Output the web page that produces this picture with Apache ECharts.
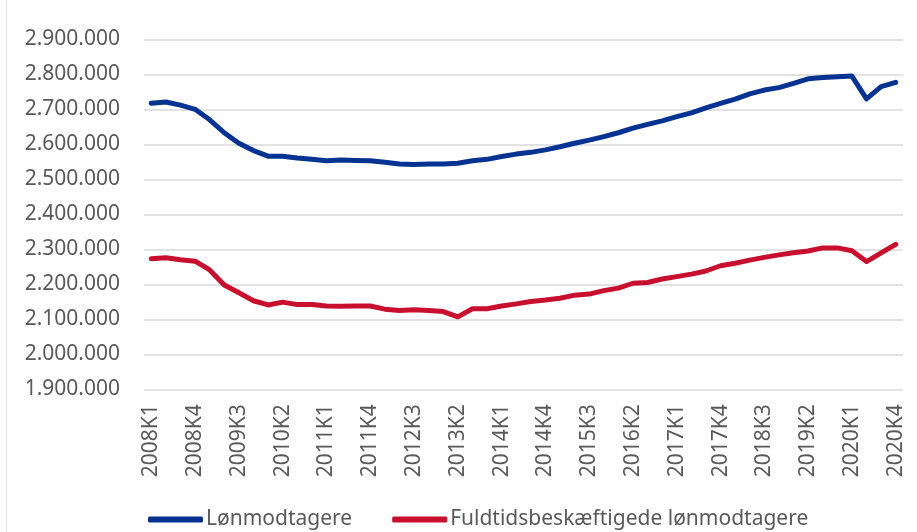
<!DOCTYPE html>
<html>
<head>
<meta charset="utf-8">
<script src="https://cdn.jsdelivr.net/npm/echarts@6/dist/echarts.min.js"></script>
<style>html,body{margin:0;padding:0;background:#fff}#c{width:917px;height:532px}</style>
</head>
<body>
<div id="c"></div>
<script>
const years = [2008,2009,2010,2011,2012,2013,2014,2015,2016,2017,2018,2019,2020];
const categories = [];
years.forEach(y => { for (let q = 1; q <= 4; q++) categories.push(y + 'K' + q); });

const lonmodtagere = [
  2717000, 2721000, 2712000, 2700000, 2670000, 2633000, 2603000, 2582000, 2566000, 2566000,
  2561000, 2557000, 2553000, 2555000, 2554000, 2553000, 2549000, 2544000, 2542000, 2544000,
  2544000, 2546000, 2553000, 2557000, 2565000, 2572000, 2577000, 2584000, 2593000, 2603000,
  2612000, 2622000, 2633000, 2646000, 2657000, 2667000, 2679000, 2690000, 2704000, 2717000,
  2729000, 2744000, 2755000, 2762000, 2774000, 2787000, 2791000, 2793000, 2795000, 2730000,
  2765000, 2777000
];
const fuldtid = [
  2273000, 2276000, 2270000, 2266000, 2241000, 2198000, 2176000, 2153000, 2141000, 2149000,
  2142000, 2142000, 2138000, 2137000, 2138000, 2138000, 2129000, 2125000, 2127000, 2125000,
  2122000, 2107000, 2130000, 2130000, 2138000, 2144000, 2151000, 2155000, 2160000, 2169000,
  2172000, 2182000, 2189000, 2203000, 2205000, 2215000, 2222000, 2229000, 2238000, 2253000,
  2260000, 2269000, 2277000, 2284000, 2290000, 2295000, 2304000, 2304000, 2296000, 2265000,
  2290000, 2314000
];
const seriesNames = ['Lønmodtagere', 'Fuldtidsbeskæftigede lønmodtagere'];

const fmt = v => String(v).replace(/\B(?=(\d{3})+(?!\d))/g, '.');
const font = '"Noto Sans", sans-serif';

const chart = echarts.init(document.getElementById('c'));
chart.setOption({
  animation: false,
  backgroundColor: '#ffffff',
  graphic: [{
    type: 'line', shape: { x1: 6.5, y1: 0, x2: 6.5, y2: 532 },
    style: { stroke: '#e3e3e3', lineWidth: 1 }
  }],
  grid: { left: 144, right: 14, top: 39.3, bottom: 142.7, containLabel: false },
  legend: {
    left: 143, top: 504,
    itemWidth: 55, itemHeight: 6, itemGap: 40,
    icon: 'roundRect',
    textStyle: { fontFamily: font, fontSize: 21, color: '#595959', padding: [0, 0, 0, -2] },
    data: seriesNames
  },
  xAxis: {
    type: 'category',
    data: categories,
    boundaryGap: true,
    axisLine: { show: false },
    axisTick: { show: false },
    axisLabel: {
      interval: 2, rotate: 90, margin: 15,
      fontFamily: font, fontSize: 21, color: '#595959'
    }
  },
  yAxis: {
    type: 'value',
    min: 1900000, max: 2900000, interval: 100000,
    axisLine: { show: false },
    axisTick: { show: false },
    splitLine: { lineStyle: { color: '#d9d9d9', width: 1.5 } },
    axisLabel: {
      margin: 24, fontFamily: font, fontSize: 21, color: '#595959',
      formatter: v => fmt(v)
    }
  },
  series: [
    {
      name: seriesNames[0], type: 'line', data: lonmodtagere,
      showSymbol: false, symbol: 'none',
      lineStyle: { color: '#063391', width: 5, cap: 'round', join: 'round' },
      itemStyle: { color: '#063391' }
    },
    {
      name: seriesNames[1], type: 'line', data: fuldtid,
      showSymbol: false, symbol: 'none',
      lineStyle: { color: '#c8102e', width: 5, cap: 'round', join: 'round' },
      itemStyle: { color: '#c8102e' }
    }
  ]
});
</script>
</body>
</html>
